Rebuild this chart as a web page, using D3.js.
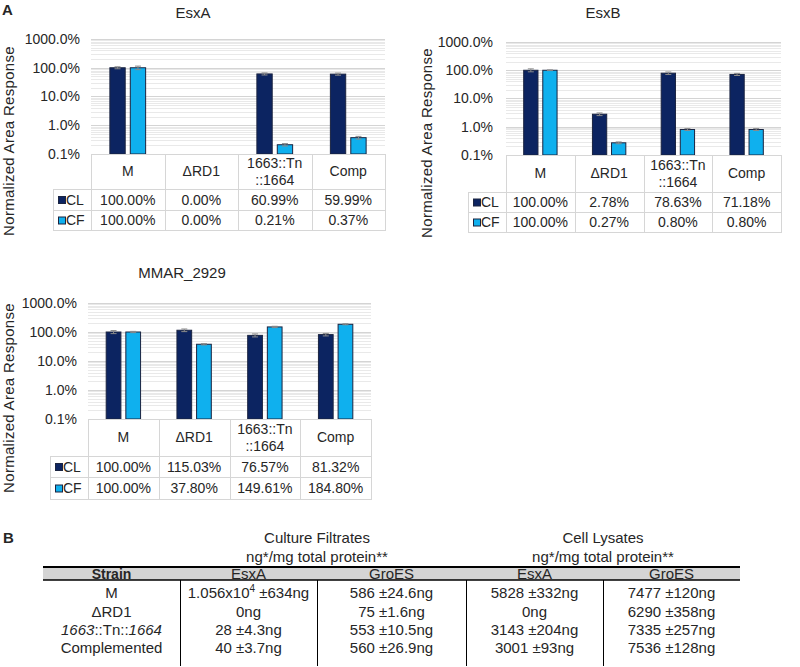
<!DOCTYPE html>
<html><head><meta charset="utf-8">
<script src="https://cdn.jsdelivr.net/npm/d3@7"></script>
<style>
body{margin:0;background:#fff}
svg{display:block}
text{font-family:"Liberation Sans",Arial,sans-serif;fill:#262626}
</style>
</head><body>
<svg id="c" width="800" height="667"></svg>
<script>
// ---------- DATA ----------
const categories = ["M", "ΔRD1", "1663::Tn\n::1664", "Comp"];
const seriesNames = ["CL", "CF"];
const yTickValues = [0.1, 1, 10, 100, 1000];

const esxA_CL = [100.00, 0.00, 60.99, 59.99];
const esxA_CF = [100.00, 0.00, 0.21, 0.37];
const esxA_CL_err = [8, 0, 5, 5];
const esxA_CF_err = [14, 0, 0.02, 0.04];

const esxB_CL = [100.00, 2.78, 78.63, 71.18];
const esxB_CF = [100.00, 0.27, 0.80, 0.80];
const esxB_CL_err = [12, 0.3, 8, 6];
const esxB_CF_err = [3, 0.02, 0.06, 0.06];

const mmar_CL = [100.00, 115.03, 76.57, 81.32];
const mmar_CF = [100.00, 37.80, 149.61, 184.80];
const mmar_CL_err = [12, 12, 9, 8];
const mmar_CF_err = [5, 2, 8, 8];

const tableGroups = ["Culture Filtrates", "Cell Lysates"];
const tableUnits = "ng*/mg total protein**";
const tableColumns = ["Strain", "EsxA", "GroES", "EsxA", "GroES"];
const strains = ["M", "ΔRD1", "1663::Tn::1664", "Complemented"];
const cf_EsxA = ["1.056x10^4 ±634ng", "0ng", "28 ±4.3ng", "40 ±3.7ng"];
const cf_GroES = ["586 ±24.6ng", "75 ±1.6ng", "553 ±10.5ng", "560 ±26.9ng"];
const cl_EsxA = ["5828 ±332ng", "0ng", "3143 ±204ng", "3001 ±93ng"];
const cl_GroES = ["7477 ±120ng", "6290 ±358ng", "7335 ±257ng", "7536 ±128ng"];

// ---------- STYLE ----------
const colCL = "#0c2461", colCF = "#0fb0ee", barStroke = "#1b2440";
const gridMajor = "#d4d4d4", gridMinor = "#e9e9e9", tableLine = "#d6d6d6";
const svg = d3.select("#c");

// ---------- PANELS ----------
function drawPanel(cfg, cl, cf, clErr, cfErr) {
  const g = svg.append("g");
  const x = d3.scaleBand().domain(categories).range([cfg.x0, cfg.x1]);
  const y = d3.scaleLog().domain([0.1, 1000]).range([cfg.yBot, cfg.yTop]);
  const bw = x.bandwidth();
  const xs = d3.scaleBand().domain(seriesNames).range([bw * 0.25, bw * 0.75]).paddingInner(0.2);

  // title
  g.append("text").attr("x", cfg.titleX).attr("y", cfg.titleY).attr("text-anchor", "middle")
    .attr("dy", "0.35em").style("font-size", "15px").text(cfg.title);

  // gridlines
  const gl = y.ticks().filter(d => d > 0.1 + 1e-9);
  g.append("g").selectAll("line").data(gl).join("line")
    .attr("x1", cfg.x0).attr("x2", cfg.x1)
    .attr("y1", d => Math.round(y(d)) + 0.5).attr("y2", d => Math.round(y(d)) + 0.5)
    .attr("stroke", d => Math.abs(Math.log10(d) - Math.round(Math.log10(d))) < 1e-6 ? gridMajor : gridMinor)
    .attr("stroke-width", 1);

  // y axis labels
  const ax = g.append("g").attr("transform", `translate(${cfg.tickRight},0)`)
    .call(d3.axisLeft(y).tickValues(yTickValues).tickSize(0).tickPadding(0)
      .tickFormat(d => d3.format(".1f")(d) + "%"));
  ax.select(".domain").remove();
  ax.selectAll("text").style("font-size", "14px").style("font-family", '"Liberation Sans",Arial,sans-serif')
    .attr("fill", "#262626");

  // axis title
  g.append("text").attr("transform", `translate(${cfg.labelX},${cfg.labelY}) rotate(-90)`)
    .attr("text-anchor", "middle").style("font-size", "15px").style("letter-spacing", "0.3px")
    .text("Normalized Area Response");

  // bars
  const series = [
    {name: "CL", vals: cl, err: clErr, color: colCL},
    {name: "CF", vals: cf, err: cfErr, color: colCF}
  ];
  series.forEach(s => {
    const items = categories.map((c, i) => ({c, v: s.vals[i], e: s.err[i]})).filter(d => d.v > 0);
    g.append("g").selectAll("rect").data(items).join("rect")
      .attr("x", d => x(d.c) + xs(s.name) + 0.5)
      .attr("y", d => y(d.v))
      .attr("width", xs.bandwidth() - 1)
      .attr("height", d => cfg.yBot - y(d.v))
      .attr("fill", s.color).attr("stroke", barStroke).attr("stroke-width", 1);
    const eg = g.append("g").attr("stroke", "#8a8a8a").attr("stroke-width", 1);
    items.forEach(d => {
      const cx = x(d.c) + xs(s.name) + xs.bandwidth() / 2;
      const y1 = y(Math.max(d.v - d.e, 0.1)), y2 = y(d.v + d.e);
      eg.append("line").attr("x1", cx).attr("x2", cx).attr("y1", y1).attr("y2", y2);
      eg.append("line").attr("x1", cx - 3).attr("x2", cx + 3).attr("y1", y1).attr("y2", y1);
      eg.append("line").attr("x1", cx - 3).attr("x2", cx + 3).attr("y1", y2).attr("y2", y2);
    });
  });

  // data table
  const tg = g.append("g").attr("stroke", tableLine).attr("stroke-width", 1);
  const hl = (x1, x2, yy) => tg.append("line").attr("x1", x1).attr("x2", x2).attr("y1", yy + 0.5).attr("y2", yy + 0.5);
  const vl = (xx, y1, y2) => tg.append("line").attr("x1", xx + 0.5).attr("x2", xx + 0.5).attr("y1", y1).attr("y2", y2);
  hl(cfg.x0, cfg.x1, cfg.yBot);
  hl(cfg.legX, cfg.x1, cfg.headerBot);
  hl(cfg.legX, cfg.x1, cfg.clBot);
  hl(cfg.legX, cfg.x1, cfg.cfBot);
  vl(cfg.legX, cfg.headerBot, cfg.cfBot + 1);
  categories.forEach(c => vl(Math.round(x(c)), cfg.yBot, cfg.cfBot + 1));
  vl(Math.round(cfg.x1), cfg.yBot, cfg.cfBot + 1);

  // header labels
  categories.forEach(c => {
    const lines = c.split("\n");
    const cy = (cfg.yBot + cfg.headerBot) / 2;
    lines.forEach((ln, i) => {
      g.append("text").attr("x", x(c) + bw / 2)
        .attr("y", cy + (i - (lines.length - 1) / 2) * 17)
        .attr("dy", "0.35em").attr("text-anchor", "middle").style("font-size", "14px").text(ln);
    });
  });

  // rows
  const rows = [
    {name: "CL", vals: cl, color: colCL, top: cfg.headerBot, bot: cfg.clBot},
    {name: "CF", vals: cf, color: colCF, top: cfg.clBot, bot: cfg.cfBot}
  ];
  rows.forEach(r => {
    const cy = (r.top + r.bot) / 2 + 0.5;
    g.append("rect").attr("x", cfg.legX + 5.5).attr("y", cy - 3.5).attr("width", 7).attr("height", 7)
      .attr("fill", r.color).attr("stroke", barStroke).attr("stroke-width", 1);
    g.append("text").attr("x", cfg.legX + 13).attr("y", cy).attr("dy", "0.35em")
      .style("font-size", "14px").text(r.name);
    categories.forEach((c, i) => {
      g.append("text").attr("x", x(c) + bw / 2).attr("y", cy).attr("dy", "0.35em")
        .attr("text-anchor", "middle").style("font-size", "14px")
        .text(d3.format(".2f")(r.vals[i]) + "%");
    });
  });
}

drawPanel({title: "EsxA", titleX: 193, titleY: 13, x0: 91, x1: 385, yTop: 39, yBot: 154,
  headerBot: 189, clBot: 210, cfBot: 230, legX: 53, labelX: 14, labelY: 141, tickRight: 80},
  esxA_CL, esxA_CF, esxA_CL_err, esxA_CF_err);
drawPanel({title: "EsxB", titleX: 603, titleY: 13, x0: 506, x1: 781, yTop: 42, yBot: 155,
  headerBot: 192, clBot: 212, cfBot: 232, legX: 468, labelX: 432, labelY: 143, tickRight: 493},
  esxB_CL, esxB_CF, esxB_CL_err, esxB_CF_err);
drawPanel({title: "MMAR_2929", titleX: 182, titleY: 273, x0: 88, x1: 371, yTop: 303, yBot: 419,
  headerBot: 456, clBot: 477, cfBot: 499, legX: 50, labelX: 14, labelY: 398, tickRight: 77},
  mmar_CL, mmar_CF, mmar_CL_err, mmar_CF_err);

// panel letters
svg.append("text").attr("x", 2).attr("y", 15).style("font-size", "15px").style("font-weight", "bold")
  .attr("fill", "#111").text("A");
svg.append("text").attr("x", 3).attr("y", 543).style("font-size", "15px").style("font-weight", "bold")
  .attr("fill", "#111").text("B");

// ---------- TABLE B ----------
const tb = svg.append("g").style("font-family", '"Liberation Sans Narrow","Liberation Sans",Arial,sans-serif');
const tLeft = 43, tRight = 740;
const colEdges = [tLeft, 180, 317, 466, 603, tRight];
const colX = d3.scaleOrdinal().domain(d3.range(5)).range(d3.range(5).map(i => (colEdges[i] + colEdges[i + 1]) / 2));
const rowY = d3.scalePoint().domain(strains).range([593, 648]);
const fs = "15px";

[[tableGroups[0], 317], [tableGroups[1], 603]].forEach(([t, cx]) => {
  tb.append("text").attr("x", cx).attr("y", 538).attr("dy", "0.35em").attr("text-anchor", "middle")
    .style("font-size", fs).style("font-family", "inherit").text(t);
  tb.append("text").attr("x", cx).attr("y", 557).attr("dy", "0.35em").attr("text-anchor", "middle")
    .style("font-size", fs).style("font-family", "inherit").text(tableUnits);
});
tb.append("rect").attr("x", tLeft).attr("y", 567).attr("width", tRight - tLeft).attr("height", 13).attr("fill", "#d4d4d4");
tb.append("line").attr("x1", tLeft).attr("x2", tRight).attr("y1", 567).attr("y2", 567).attr("stroke", "#000").attr("stroke-width", 2);
tb.append("line").attr("x1", tLeft).attr("x2", tRight).attr("y1", 580).attr("y2", 580).attr("stroke", "#000").attr("stroke-width", 1.5);
tableColumns.forEach((c, i) => {
  tb.append("text").attr("x", colX(i)).attr("y", 574).attr("dy", "0.35em").attr("text-anchor", "middle")
    .style("font-size", fs).style("font-family", i === 0 ? '"Liberation Sans",Arial,sans-serif' : "inherit")
    .style("font-weight", i === 0 ? "bold" : "normal").style("font-size", i === 0 ? "14px" : fs).text(c);
});
[180, 317, 466, 603].forEach(xx => {
  tb.append("line").attr("x1", xx + 0.5).attr("x2", xx + 0.5).attr("y1", 580).attr("y2", 666)
    .attr("stroke", "#000").attr("stroke-width", 1);
});

function addText(sel, str) {
  // superscript "^" and italic digit groups handled
  if (str.includes("^")) {
    const m = str.match(/^(.*)\^(\d+)(.*)$/);
    sel.append("tspan").text(m[1]);
    sel.append("tspan").attr("dy", "-6").style("font-size", "10px").text(m[2]);
    sel.append("tspan").attr("dy", "6").text(m[3]);
  } else if (str.includes("::")) {
    str.split(/(::)/).forEach(p => {
      const t = sel.append("tspan").text(p);
      if (/^\d+$/.test(p)) t.style("font-style", "italic");
    });
  } else sel.text(str);
}
const cols = [strains, cf_EsxA, cf_GroES, cl_EsxA, cl_GroES];
cols.forEach((arr, ci) => {
  arr.forEach((v, ri) => {
    const t = tb.append("text").attr("x", colX(ci)).attr("y", rowY(strains[ri])).attr("dy", "0.35em")
      .attr("text-anchor", "middle").style("font-size", fs).style("font-family", "inherit");
    addText(t, v);
  });
});
</script>
</body></html>
